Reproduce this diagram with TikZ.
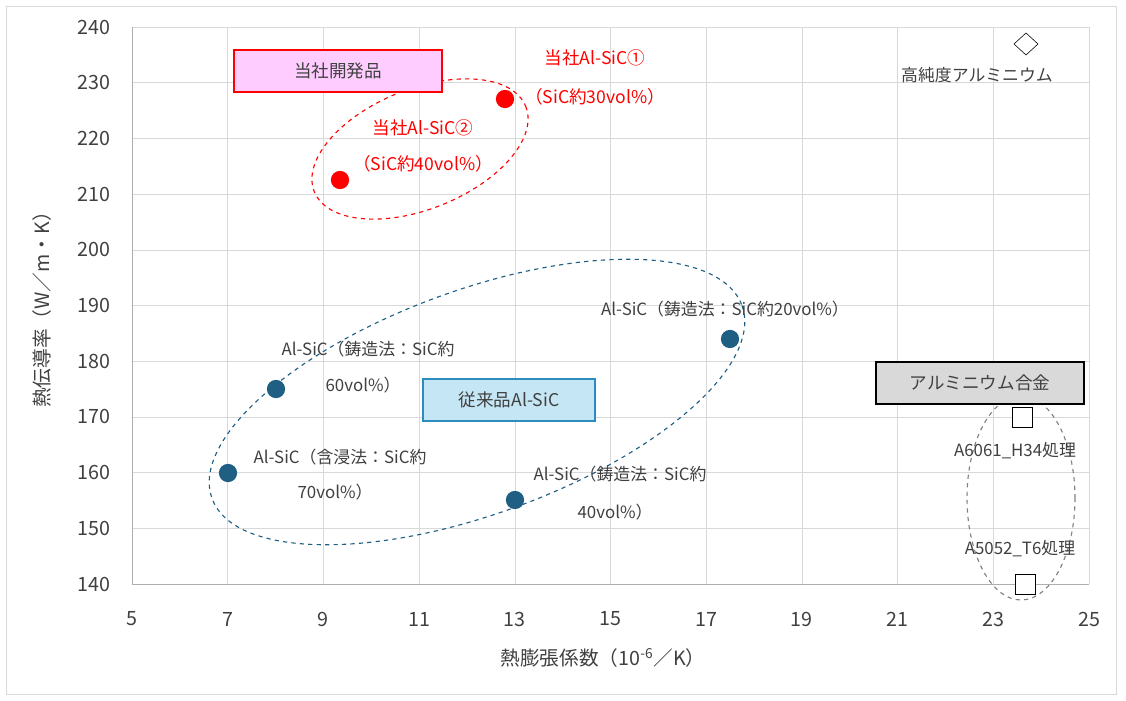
\documentclass[tikz,border=0pt]{standalone}
\usepackage{fontspec}
\setmainfont{Noto Sans CJK JP}
\usetikzlibrary{positioning}
\definecolor{ptblue}{HTML}{1F5F84}
\definecolor{lblgray}{HTML}{404040}
\definecolor{gridgray}{HTML}{D9D9D9}
\tikzset{
  lbl/.style={text=lblgray,font=\fontsize{12}{14}\selectfont,inner sep=1pt},
  redlbl/.style={text=red,font=\fontsize{12.5}{14}\selectfont,inner sep=1pt},
  tick/.style={text=lblgray,font=\fontsize{14}{16}\selectfont,inner sep=1pt},
  redpt/.style={circle,fill=red,minimum size=13pt,inner sep=0pt},
  bluept/.style={circle,fill=ptblue,minimum size=13pt,inner sep=0pt},
  sqpt/.style={draw=black,fill=white,minimum size=14pt,inner sep=0pt,thin},
}
\begin{document}
\begin{tikzpicture}[x=0.025cm,y=-0.025cm]
\useasboundingbox (0,0) rectangle (1126,701);
\draw [gridgray] (6,6) rectangle (1116,694);
% grid
\foreach \i in {0,...,9}
  \draw [gridgray] (132,{27+55.7*\i}) -- (1089,{27+55.7*\i});
\foreach \i in {1,...,10}
  \draw [gridgray] ({132+95.7*\i},27) -- ({132+95.7*\i},584);
\draw [gridgray!80!black] (132,27) -- (132,584) -- (1089,584);
% tick labels
\foreach \v [count=\i from 0] in {140,150,...,240}
  \node [tick,anchor=east] at (112,{584-55.7*\i}) {\v};
\foreach \v [count=\i from 0] in {5,7,...,25}
  \node [tick] at ({132+95.7*\i},619) {\v};
\node [tick,rotate=90] (ytitle) at (42,305) {熱伝導率（W／m・K）};
\node [tick] (xtitle) at (603,658) {熱膨張係数（10\textsuperscript{-6}／K）};
% ellipses
\draw [red,dashed,thick] (420,149) ellipse [x radius=114,y radius=60,rotate=22];
\draw [ptblue,dashed,thick] (477,402) ellipse [x radius=282,y radius=112,rotate=20];
\draw [gray,dashed,thick] (1021,498) ellipse [x radius=54,y radius=102];
% points
\node [redpt] (alsic2) at (340,180) {};
\node [redpt] (alsic1) at (505,99) {};
\node [bluept] (imp70) at (228,473) {};
\node [bluept] (cast60) at (276,389) {};
\node [bluept] (cast40) at (515,500) {};
\node [bluept] (cast20) at (730,339) {};
\node [sqpt] (a6061) at (1022,417) {};
\node [sqpt] (a5052) at (1025,584) {};
\draw [thin] (1026,33) -- (1038,44) -- (1026,55) -- (1014,44) -- cycle;
% boxes
\node [draw=red,thick,fill={rgb,255:red,255;green,204;blue,255},
  text=lblgray,font=\fontsize{12.5}{14}\selectfont,minimum width=5.2cm,minimum height=1.05cm] (ourbox) at (338,71) {当社開発品};
\node [draw={rgb,255:red,46;green,139;blue,192},thick,fill={rgb,255:red,197;green,230;blue,245},
  text=lblgray,font=\fontsize{12.5}{14}\selectfont,minimum width=4.3cm,minimum height=1.05cm] (oldbox) at (509,400) {従来品Al-SiC};
\node [draw=black,very thick,fill=gridgray,text=lblgray,font=\fontsize{12.5}{14}\selectfont,
  minimum width=5.2cm,minimum height=1.05cm] (alloybox) at (980,383) {アルミニウム合金};
% labels
\node [redlbl] at (595,58) {当社Al-SiC①};
\node [redlbl] at (595,97) {（SiC約30vol\%）};
\node [redlbl] at (423,128) {当社Al-SiC②};
\node [redlbl] at (423,164) {（SiC約40vol\%）};
\node [lbl] at (977,75) {高純度アルミニウム};
\node [lbl] at (725,309) {Al-SiC（鋳造法：SiC約20vol\%）};
\node [lbl] at (368,349) {Al-SiC（鋳造法：SiC約};
\node [lbl] at (363,385) {60vol\%）};
\node [lbl] at (340,457) {Al-SiC（含浸法：SiC約};
\node [lbl] at (335,492) {70vol\%）};
\node [lbl] at (620,474) {Al-SiC（鋳造法：SiC約};
\node [lbl] at (615,512) {40vol\%）};
\node [lbl] at (1015,451) {A6061\_H34処理};
\node [lbl] at (1020,549) {A5052\_T6処理};
\end{tikzpicture}
\end{document}
